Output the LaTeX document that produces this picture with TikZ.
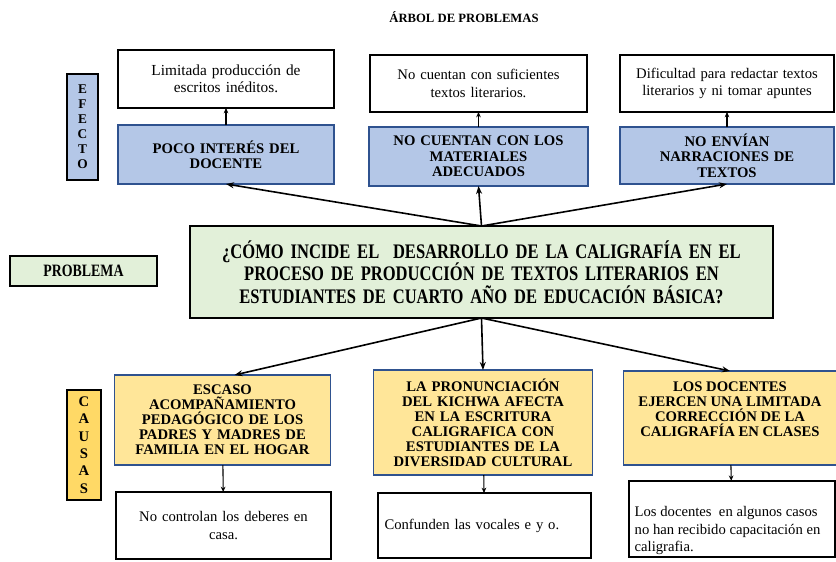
\documentclass[tikz,border=0pt]{standalone}
\usepackage{fontspec}
\setmainfont{Liberation Serif}
\newfontfamily\condfont[FakeStretch=0.80]{Liberation Serif}
\usetikzlibrary{arrows.meta}

\definecolor{efectoFill}{RGB}{180,199,231}
\definecolor{efectoLine}{RGB}{47,82,143}
\definecolor{problemaFill}{RGB}{226,240,217}
\definecolor{causaFill}{RGB}{255,230,153}
\definecolor{causasTag}{RGB}{255,217,102}

\begin{document}
\begin{tikzpicture}[x=0.75pt,y=-0.75pt,
    base/.style={rectangle,inner sep=2pt,outer sep=0pt,align=center},
    whitebox/.style={base,draw=black,line width=1.5pt,fill=white,
        font=\fontsize{11}{13}\selectfont},
    bluebox/.style={base,draw=efectoLine,line width=1.1pt,fill=efectoFill,
        font=\bfseries\fontsize{11}{11.5}\selectfont},
    yellowbox/.style={base,draw=efectoLine,line width=1.1pt,fill=causaFill,
        font=\bfseries\fontsize{11}{11.25}\selectfont},
    tagbox/.style={base,draw=black,line width=1.8pt,font=\bfseries},
    arrow/.style={-{Stealth[length=6pt,width=4.5pt]},line width=1.2pt},
    small arrow/.style={-{Stealth[length=4pt,width=3.5pt]},line width=0.8pt}
]
    \useasboundingbox (0,0) rectangle (836,561);

    % Title
    \node[font=\bfseries\fontsize{9.5}{10}\selectfont] (title) at (464,17) {ÁRBOL DE PROBLEMAS};

    % Effects (top row) and their consequences
    \node[whitebox,minimum width=162pt,minimum height=43.5pt,text width=155pt,
          font=\fontsize{11.5}{13}\selectfont] (ef1) at (226,79)
        {Limitada producción de\\escritos inéditos.};
    \node[whitebox,minimum width=162.75pt,minimum height=42.75pt,text width=155pt] (ef2) at (478.5,83.5)
        {No cuentan con suficientes\\textos literarios.};
    \node[whitebox,minimum width=160.5pt,minimum height=42.75pt,text width=155pt] (ef3) at (727,83.5)
        {Dificultad para redactar textos\\literarios y ni tomar apuntes};

    \node[bluebox,minimum width=162pt,minimum height=44.25pt,text width=155pt] (bl1) at (226,154.5)
        {POCO INTERÉS DEL\\DOCENTE};
    \node[bluebox,minimum width=162.75pt,minimum height=44.25pt,text width=160pt] (bl2) at (478.5,156.5)
        {NO CUENTAN CON LOS\\MATERIALES\\ADECUADOS};
    \node[bluebox,minimum width=160.5pt,minimum height=42.75pt,text width=155pt] (bl3) at (727,155.5)
        {NO ENVÍAN\\NARRACIONES DE\\TEXTOS};

    % Side tags
    \node[tagbox,fill=efectoFill,minimum width=23.25pt,minimum height=79.5pt,
          font=\bfseries\fontsize{10}{11.25}\selectfont] (efecto) at (82.5,127)
        {E\\F\\E\\C\\T\\O};
    \node[tagbox,fill=problemaFill,minimum width=110.25pt,minimum height=22.5pt,
          font=\condfont\bfseries\fontsize{13}{14}\selectfont] (problema) at (83.5,271)
        {PROBLEMA};
    \node[tagbox,fill=causasTag,minimum width=25.5pt,minimum height=82.5pt,
          font=\bfseries\fontsize{11}{13}\selectfont] (causas) at (84,445)
        {C\\A\\U\\S\\A\\S};

    % Central problem
    \node[base,draw=black,line width=1.8pt,fill=problemaFill,minimum width=437.25pt,
          minimum height=69pt,text width=420pt,
          font=\condfont\bfseries\fontsize{15.5}{17}\selectfont] (prob) at (481.5,272)
        {¿CÓMO INCIDE EL\ \ DESARROLLO DE LA CALIGRAFÍA EN EL\\PROCESO DE PRODUCCIÓN DE TEXTOS LITERARIOS EN\\ESTUDIANTES DE CUARTO AÑO DE EDUCACIÓN BÁSICA?};

    % Causes (bottom row) and their consequences
    \node[yellowbox,minimum width=161.25pt,minimum height=67.5pt,text width=158pt] (ca1) at (222.5,420)
        {ESCASO\\ACOMPAÑAMIENTO\\PEDAGÓGICO DE LOS\\PADRES Y MADRES DE\\FAMILIA EN EL HOGAR};
    \node[yellowbox,minimum width=162pt,minimum height=78.75pt,text width=160pt] (ca2) at (483,422.5)
        {LA PRONUNCIACIÓN\\DEL KICHWA AFECTA\\EN LA ESCRITURA\\CALIGRAFICA CON\\ESTUDIANTES DE LA\\DIVERSIDAD CULTURAL};
    \node[yellowbox,minimum width=157.5pt,minimum height=70.5pt] (ca3) at (730,418)
        {\parbox[c][54pt][t]{156pt}{\centering LOS DOCENTES\\EJERCEN UNA LIMITADA\\CORRECCIÓN DE LA\\CALIGRAFÍA EN CLASES}};

    \node[whitebox,minimum width=161.25pt,minimum height=50.25pt,text width=155pt] (co1) at (223.5,525.5)
        {No controlan los deberes en\\casa.};
    \node[whitebox,minimum width=159.75pt,minimum height=48.75pt,text width=150pt,align=left] (co2) at (484.5,525.5)
        {Confunden las vocales e y o.};
    \node[whitebox,minimum width=154.5pt,minimum height=55.5pt] (co3) at (732,519)
        {\parbox[c][51pt][b]{146pt}{\raggedright Los docentes\ \ en algunos casos\\no han recibido capacitación en\\caligrafia.}};

    % Arrows from the problem to effects and causes
    \foreach \e in {bl1,bl2,bl3}
        \draw[arrow] (prob.north) -- (\e.south);
    \draw[arrow] (prob.south) -- ([xshift=9pt]ca1.north);
    \foreach \c in {ca2,ca3}
        \draw[arrow] (prob.south) -- (\c.north);

    % Short arrows inside each column
    \foreach \a/\b in {bl1/ef1,bl2/ef2,bl3/ef3,ca1/co1,ca2/co2,ca3/co3}
        \draw[small arrow] (\a) -- (\b);
\end{tikzpicture}
\end{document}
